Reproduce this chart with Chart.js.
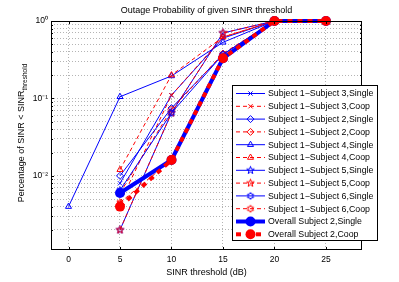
<!DOCTYPE html>
<html>
<head>
<meta charset="utf-8">
<script src="https://cdn.jsdelivr.net/npm/chart.js@4"></script>
<style>
  html, body { margin: 0; padding: 0; background: #fff; }
  #wrap { width: 399px; height: 282px; }
</style>
</head>
<body>
<div id="wrap"><canvas id="outage" width="399" height="282"></canvas></div>
<script>
// SINR thresholds (dB) and outage values
const snr = [0, 5, 10, 15, 20, 25];
const s3Single = [null, 0.008, 0.11, 0.60, 1, null];
const s3Coop = [null, 0.0045, 0.11, 0.62, 1, null];
const s2Single = [null, 0.010, 0.075, 0.37, 1, null];
const s2Coop = [null, 0.006, 0.072, 0.38, 1, null];
const s4Single = [0.004, 0.105, 0.195, 0.53, 1, null];
const s4Coop = [null, 0.012, 0.20, 0.62, 1, null];
const s5Single = [null, 0.002, 0.065, 0.70, 1, null];
const s5Coop = [null, 0.002, 0.065, 0.70, 1, null];
const s6Single = [null, 0.0065, 0.065, 0.37, 1, null];
const s6Coop = [null, 0.0045, 0.016, 0.35, 1, null];
const overallSingle = [null, 0.006, 0.016, 0.33, 1, 1];
const overallCoop = [null, 0.004, 0.016, 0.33, 1, 1];

const xTicks = [0, 5, 10, 15, 20, 25];
const yMajorTicks = [0.01, 0.1, 1];
const yMajorLabels = ['10\u207B\u00B2', '10\u207B\u00B9', '10\u2070'];
const yGridTicks = [0.002, 0.003, 0.004, 0.005, 0.006, 0.007, 0.008, 0.009,
  0.01, 0.02, 0.03, 0.04, 0.05, 0.06, 0.07, 0.08, 0.09,
  0.1, 0.2, 0.3, 0.4, 0.5, 0.6, 0.7, 0.8, 0.9, 1];

const BLUE = '#0000ff';
const RED = '#ff0000';
const FONT = 'Liberation Sans, Arial, Helvetica, sans-serif';

// pentagram / hexagram markers like matlab's 'p' and 'h'
function starMarker(points, inner, color, r) {
  const size = Math.ceil(r * 2 + 3);
  const c = document.createElement('canvas');
  c.width = size; c.height = size;
  const g = c.getContext('2d');
  g.beginPath();
  for (let i = 0; i < points * 2; i++) {
    const rad = i % 2 === 0 ? r : r * inner;
    const a = -Math.PI / 2 + i * Math.PI / points;
    const px = size / 2 + rad * Math.cos(a), py = size / 2 + rad * Math.sin(a);
    if (i === 0) g.moveTo(px, py); else g.lineTo(px, py);
  }
  g.closePath();
  g.strokeStyle = color;
  g.lineWidth = 1;
  g.stroke();
  return c;
}

function pts(vals) {
  return snr.map((x, i) => ({ x: x, y: vals[i] })).filter(p => p.y !== null);
}

function subject(label, vals, color, style, dashed, radius) {
  return {
    label: label,
    data: pts(vals),
    borderColor: color,
    backgroundColor: 'rgba(0,0,0,0)',
    borderWidth: 1,
    borderDash: dashed ? [4, 3] : [],
    pointStyle: style,
    pointRadius: radius || 3.5,
    pointBorderColor: color,
    pointBackgroundColor: 'rgba(0,0,0,0)',
    pointBorderWidth: 1,
    tension: 0,
    clip: false
  };
}

const datasets = [
  subject('Subject 1\u2212Subject 3,Single', s3Single, BLUE, 'crossRot', false, 3),
  subject('Subject 1\u2212Subject 3,Coop', s3Coop, RED, 'crossRot', true, 3),
  subject('Subject 1\u2212Subject 2,Single', s2Single, BLUE, 'rectRot', false),
  subject('Subject 1\u2212Subject 2,Coop', s2Coop, RED, 'rectRot', true),
  subject('Subject 1\u2212Subject 4,Single', s4Single, BLUE, 'triangle', false),
  subject('Subject 1\u2212Subject 4,Coop', s4Coop, RED, 'triangle', true),
  subject('Subject 1\u2212Subject 5,Single', s5Single, BLUE, starMarker(5, 0.4, BLUE, 4), false),
  subject('Subject 1\u2212Subject 5,Coop', s5Coop, RED, starMarker(5, 0.4, RED, 4), true),
  subject('Subject 1\u2212Subject 6,Single', s6Single, BLUE, starMarker(6, 0.58, BLUE, 3.5), false),
  subject('Subject 1\u2212Subject 6,Coop', s6Coop, RED, starMarker(6, 0.58, RED, 3.5), true),
  {
    label: 'Overall Subject 2,Single',
    data: pts(overallSingle),
    borderColor: BLUE, backgroundColor: BLUE, borderWidth: 4,
    pointStyle: 'circle', pointRadius: 5, pointBorderWidth: 0,
    pointBorderColor: BLUE, pointBackgroundColor: BLUE, tension: 0, clip: false
  },
  {
    label: 'Overall Subject 2,Coop',
    data: pts(overallCoop),
    borderColor: RED, backgroundColor: RED, borderWidth: 4, borderDash: [5, 5],
    pointStyle: 'circle', pointRadius: 5, pointBorderWidth: 0,
    pointBorderColor: RED, pointBackgroundColor: RED, tension: 0, clip: false
  }
];
// later series go on top, as in matlab
datasets.forEach((ds, i) => { ds.order = -i; });

// title, y label with subscript, box with inward ticks, matlab style legend
const matlabDecor = {
  id: 'matlabDecor',
  afterDraw(chart) {
    const ctx = chart.ctx;
    const a = chart.chartArea;
    const xs = chart.scales.x, ys = chart.scales.y;
    ctx.save();

    ctx.fillStyle = '#000';
    ctx.font = '9px ' + FONT;
    ctx.textAlign = 'center';
    ctx.textBaseline = 'middle';
    ctx.fillText('Outage Probability of given SINR threshold', (a.left + a.right) / 2, 11);

    // y axis label
    ctx.save();
    ctx.translate(22, 133);
    ctx.rotate(-Math.PI / 2);
    const main = 'Percentage of SINR < SINR';
    const sub = 'threshold';
    ctx.font = '9px ' + FONT;
    const wMain = ctx.measureText(main).width;
    ctx.font = '6.5px ' + FONT;
    const wSub = ctx.measureText(sub).width;
    const start = -(wMain + wSub) / 2;
    ctx.textAlign = 'left';
    ctx.font = '9px ' + FONT;
    ctx.fillText(main, start, 0);
    ctx.font = '6.5px ' + FONT;
    ctx.fillText(sub, start + wMain, 3);
    ctx.restore();

    // box and inward ticks
    ctx.strokeStyle = '#000';
    ctx.lineWidth = 1;
    ctx.strokeRect(a.left + 0.5, a.top + 0.5, a.right - a.left - 1, a.bottom - a.top - 1);
    ctx.beginPath();
    xTicks.forEach(v => {
      const px = Math.round(xs.getPixelForValue(v)) + 0.5;
      ctx.moveTo(px, a.bottom); ctx.lineTo(px, a.bottom - 3);
      ctx.moveTo(px, a.top); ctx.lineTo(px, a.top + 3);
    });
    yGridTicks.forEach(v => {
      const py = Math.round(ys.getPixelForValue(v)) + 0.5;
      const len = yMajorTicks.includes(v) ? 3 : 2;
      ctx.moveTo(a.left, py); ctx.lineTo(a.left + len, py);
      ctx.moveTo(a.right, py); ctx.lineTo(a.right - len, py);
    });
    ctx.stroke();

    // legend
    const lx = 232, ly = 85, lw = 145, lh = 155, row = 12.8;
    ctx.fillStyle = '#fff';
    ctx.fillRect(lx, ly, lw, lh);
    ctx.strokeRect(lx + 0.5, ly + 0.5, lw, lh);
    chart.data.datasets.forEach((ds, i) => {
      const y = ly + 8.5 + i * row;
      ctx.save();
      ctx.strokeStyle = ds.borderColor;
      ctx.lineWidth = ds.borderWidth;
      ctx.setLineDash(ds.borderDash || []);
      ctx.beginPath();
      ctx.moveTo(236, y); ctx.lineTo(265, y);
      ctx.stroke();
      ctx.restore();
      ctx.save();
      ctx.fillStyle = ds.pointBackgroundColor;
      ctx.strokeStyle = ds.pointBorderColor;
      ctx.lineWidth = ds.pointBorderWidth || 1;
      Chart.helpers.drawPoint(ctx, {
        pointStyle: ds.pointStyle,
        radius: ds.pointRadius,
        borderWidth: ds.pointBorderWidth,
        rotation: 0
      }, 250.5, y);
      ctx.restore();
      ctx.fillStyle = '#000';
      ctx.font = '8.8px ' + FONT;
      ctx.textAlign = 'left';
      ctx.textBaseline = 'middle';
      ctx.fillText(ds.label, 268, y + 0.5);
    });
    ctx.restore();
  }
};

new Chart(document.getElementById('outage'), {
  type: 'line',
  data: { datasets: datasets },
  options: {
    responsive: false,
    animation: false,
    events: [],
    layout: { padding: { top: 21, right: 37, left: 0, bottom: 0 } },
    plugins: { legend: { display: false }, tooltip: { enabled: false }, title: { display: false } },
    scales: {
      x: {
        type: 'linear',
        min: -1.7,
        max: 28.5,
        afterBuildTicks: s => { s.ticks = xTicks.map(v => ({ value: v })); },
        afterFit: s => { s.height = 32; },
        grid: { color: '#b4b4b4', lineWidth: 1, drawTicks: false },
        border: { display: false, dash: [1, 2] },
        ticks: { color: '#000', font: { family: FONT, size: 8.5 }, padding: 5, maxRotation: 0 },
        title: { display: true, text: 'SINR threshold (dB)', color: '#000',
          font: { family: FONT, size: 9 }, padding: { top: 0, bottom: 4 } }
      },
      y: {
        type: 'logarithmic',
        min: 0.0011,
        max: 1,
        afterBuildTicks: s => { s.ticks = yGridTicks.map(v => ({ value: v })); },
        afterFit: s => { s.width = 51; },
        grid: { color: '#b4b4b4', lineWidth: 1, drawTicks: false },
        border: { display: false, dash: [1, 2] },
        ticks: {
          autoSkip: false,
          color: '#000',
          font: { family: FONT, size: 8.5 },
          padding: 3,
          callback: v => {
            const k = yMajorTicks.findIndex(t => Math.abs(t - v) < t * 1e-6);
            return k >= 0 ? yMajorLabels[k] : '';
          }
        }
      }
    }
  },
  plugins: [matlabDecor]
});
</script>
</body>
</html>
